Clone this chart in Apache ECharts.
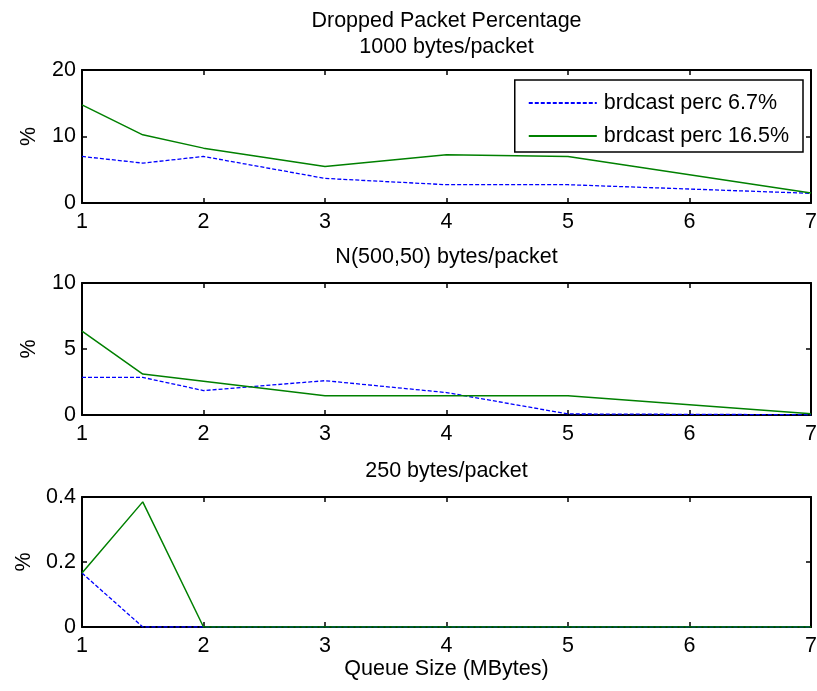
<!DOCTYPE html>
<html>
<head>
<meta charset="utf-8">
<script src="https://cdn.jsdelivr.net/npm/echarts@6/dist/echarts.min.js"></script>
<style>
  html, body { margin: 0; padding: 0; background: #fff; }
  #chart { width: 817px; height: 691px; }
</style>
</head>
<body>
<div id="chart"></div>
<script>
// Queue sizes (MBytes) on the x axis
const queueSizes = [1, 1.5, 2, 3, 4, 5, 7];

// Dropped packet percentage, 1000 bytes/packet
const drop1000_b67 = [7.0, 6.0, 7.0, 3.7, 2.75, 2.75, 1.45];
const drop1000_b165 = [14.75, 10.25, 8.25, 5.5, 7.25, 7.0, 1.5];

// Dropped packet percentage, N(500,50) bytes/packet
const dropNorm_b67 = [2.85, 2.85, 1.85, 2.6, 1.7, 0.08, 0.02];
const dropNorm_b165 = [6.35, 3.1, 2.55, 1.45, 1.45, 1.45, 0.1];

// Dropped packet percentage, 250 bytes/packet
const drop250_b67 = [0.166, 0, 0, 0, 0, 0, 0];
const drop250_b165 = [0.166, 0.385, 0, 0, 0, 0, 0];

const seriesNames = ['brdcast perc 6.7%', 'brdcast perc 16.5%'];
const panelTitles = ['Dropped Packet Percentage\n1000 bytes/packet', 'N(500,50) bytes/packet', '250 bytes/packet'];
const yRanges = [[0, 20, 10], [0, 10, 5], [0, 0.4, 0.2]];
const panelData = [
  [drop1000_b67, drop1000_b165],
  [dropNorm_b67, dropNorm_b165],
  [drop250_b67, drop250_b165]
];

const FONT = 'Liberation Sans, Arial, sans-serif';
const FS = 21.5;
const grids = [
  { left: 82, right: 6, top: 70, height: 133, outerBoundsMode: 'none', containLabel: false },
  { left: 82, right: 6, top: 283, height: 132, outerBoundsMode: 'none', containLabel: false },
  { left: 82, right: 6, top: 497, height: 130, outerBoundsMode: 'none', containLabel: false }
];

const axisLine = { show: true, onZero: false, lineStyle: { color: '#000', width: 2 } };
const tickIn = { show: true, inside: true, length: 5, lineStyle: { color: '#000', width: 1.5 } };
const labelStyle = { color: '#000', fontFamily: FONT, fontSize: FS };

const xAxes = [];
const yAxes = [];
const series = [];

grids.forEach((g, i) => {
  // bottom x axis with labels
  xAxes.push({
    type: 'value', gridIndex: i, position: 'bottom', min: 1, max: 7, interval: 1,
    axisLine, axisTick: tickIn, splitLine: { show: false },
    axisLabel: Object.assign({ margin: 8, showMaxLabel: true, showMinLabel: true }, labelStyle),
    name: i === 2 ? 'Queue Size (MBytes)' : '',
    nameLocation: 'middle', nameGap: 26,
    nameTextStyle: labelStyle
  });
  // top x axis: frame edge, ticks and panel title
  xAxes.push({
    type: 'value', gridIndex: i, position: 'top', min: 1, max: 7, interval: 1,
    axisLine, axisTick: tickIn, splitLine: { show: false }, axisLabel: { show: false },
    name: panelTitles[i], nameLocation: 'middle', nameGap: i === 0 ? 10 : 13,
    nameTextStyle: Object.assign({ lineHeight: 26 }, labelStyle)
  });
  const [ymin, ymax, step] = yRanges[i];
  yAxes.push({
    type: 'value', gridIndex: i, position: 'left', min: ymin, max: ymax, interval: step,
    axisLine, axisTick: tickIn, splitLine: { show: false },
    axisLabel: Object.assign({ margin: 6 }, labelStyle),
    name: '%', nameLocation: 'middle', nameGap: 42, nameRotate: 90,
    nameTextStyle: labelStyle
  });
  yAxes.push({
    type: 'value', gridIndex: i, position: 'right', min: ymin, max: ymax, interval: step,
    axisLine, axisTick: tickIn, splitLine: { show: false }, axisLabel: { show: false }
  });

  const [blueVals, greenVals] = panelData[i];
  series.push({
    name: seriesNames[0], type: 'line', xAxisIndex: i * 2, yAxisIndex: i * 2,
    data: queueSizes.map((q, k) => [q, blueVals[k]]),
    symbol: 'none', silent: true, animation: false,
    lineStyle: { color: '#0000ff', width: 1.3, type: [4, 2] },
    itemStyle: { color: '#0000ff' }
  });
  series.push({
    name: seriesNames[1], type: 'line', xAxisIndex: i * 2, yAxisIndex: i * 2,
    data: queueSizes.map((q, k) => [q, greenVals[k]]),
    symbol: 'none', silent: true, animation: false,
    lineStyle: { color: '#008000', width: 1.5, type: 'solid' },
    itemStyle: { color: '#008000' }
  });
});

const chart = echarts.init(document.getElementById('chart'), null, { renderer: 'canvas' });
chart.setOption({
  backgroundColor: '#fff',
  animation: false,
  grid: grids,
  xAxis: xAxes,
  yAxis: yAxes,
  legend: {
    data: seriesNames,
    orient: 'vertical',
    right: 14, top: 80,
    backgroundColor: '#fff',
    borderColor: '#000', borderWidth: 1.5,
    padding: [10, 14, 3, 13],
    itemGap: 7,
    itemWidth: 68, itemHeight: 14,
    itemStyle: { opacity: 0 },
    textStyle: Object.assign({ lineHeight: 26, padding: [0, 0, 0, 2] }, labelStyle)
  },
  series
});
</script>
</body>
</html>
